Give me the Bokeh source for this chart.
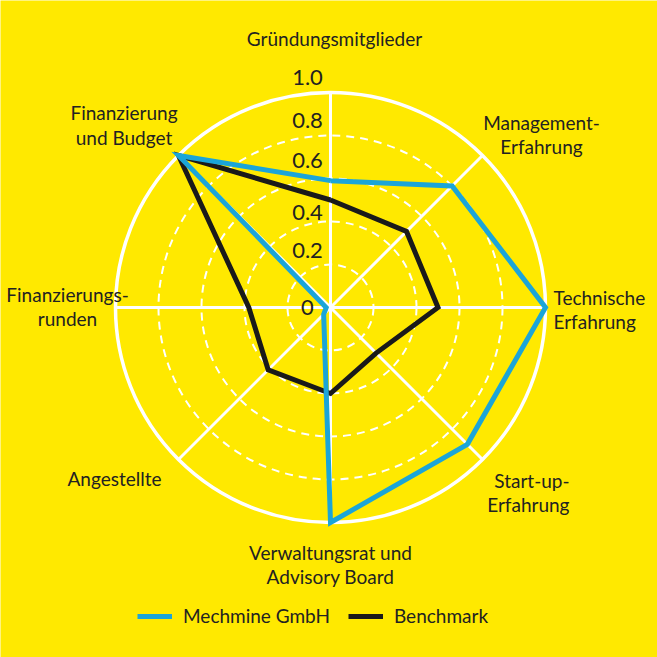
import numpy as np
from bokeh.plotting import figure
from bokeh.models import Legend, LegendItem
from bokeh.core.properties import value
from bokeh.embed import file_html
from bokeh.resources import INLINE

# ---------------- data ----------------
categories = [
    "Gründungsmitglieder",
    "Management-\nErfahrung",
    "Technische\nErfahrung",
    "Start-up-\nErfahrung",
    "Verwaltungsrat und\nAdvisory Board",
    "Angestellte",
    "Finanzierungs-\nrunden",
    "Finanzierung\nund Budget",
]
mechmine = [0.59, 0.80, 1.00, 0.90, 1.00, 0.045, 0.02, 1.00]
benchmark = [0.50, 0.50, 0.50, 0.30, 0.40, 0.41, 0.38, 1.00]
tick_values = [0, 0.2, 0.4, 0.6, 0.8, 1.0]
tick_labels = ["0", "0.2", "0.4", "0.6", "0.8", "1.0"]
series_names = ["Mechmine GmbH", "Benchmark"]

# ---------------- style / layout ----------------
BG = "#FFE900"
BLUE = "#1BA5D8"
BLACK = "#1A1A1A"
TXT = "#222222"
FONT = "Lato"
R = 215.0               # pixels per unit radius
CX, CY = 330.0, 307.0   # centre in page px
W = H = 657

x0 = -CX / R
x1 = (W - CX) / R
y1 = CY / R
y0 = (CY - H) / R

p = figure(width=W, height=H, x_range=(x0, x1), y_range=(y0, y1),
           output_backend="svg", toolbar_location=None,
           x_axis_type=None, y_axis_type=None, min_border=0)
p.background_fill_color = BG
p.border_fill_color = BG
p.outline_line_color = None
p.grid.visible = False

n = len(categories)
ang = np.arange(n) * 2 * np.pi / n

# dashed inner circles + solid outer
p.circle(x=[0] * 4, y=[0] * 4, radius=tick_values[1:5], fill_color=None,
         line_color="white", line_width=2, line_dash="8 6")
p.circle(x=[0], y=[0], radius=[tick_values[-1]], fill_color=None,
         line_color="white", line_width=3.5)
# spokes
p.segment(x0=[0] * n, y0=[0] * n, x1=list(np.sin(ang) * tick_values[-1]),
          y1=list(np.cos(ang) * tick_values[-1]), line_color="white", line_width=3)


def poly(vals):
    v = np.array(vals + vals[:1])
    a = np.append(ang, ang[0])
    return list(v * np.sin(a)), list(v * np.cos(a))

bx, by = poly(benchmark)
mx, my = poly(mechmine)
r_bench = p.line(bx, by, line_color=BLACK, line_width=5, line_join="miter")
r_mech = p.line(mx, my, line_color=BLUE, line_width=5, line_join="miter")

# tick labels (shifted slightly outward from their circle)
tick_shift = [0, 0.065, 0.04, 0.085, 0.07, 0.07]
ty = [v + s for v, s in zip(tick_values, tick_shift)]
p.text(x=[-23 / R] * len(tick_values), y=ty, text=tick_labels,
       text_font=value(FONT), text_font_size="22px", text_color=TXT,
       text_align="center", text_baseline="middle")

# category labels (layout offsets in px from centre)
lay = [(4, -269, "center"), (211, -173, "center"), (223, 2, "left"),
       (239, 185, "right"), (0, 257, "center"), (-216, 171, "center"),
       (-263, -1, "center"), (-206.5, -182.5, "center")]
for lab, (dx, dy, al) in zip(categories, lay):
    p.text(x=[dx / R], y=[-dy / R], text=[lab], text_font=value(FONT),
           text_font_size="19px", text_color=TXT, text_align=al,
           text_baseline="middle", text_line_height=1.05)

legend = Legend(items=[LegendItem(label=series_names[0], renderers=[r_mech]),
                       LegendItem(label=series_names[1], renderers=[r_bench])],
                orientation="horizontal", location=(137, 30),
                background_fill_alpha=0, border_line_alpha=0,
                padding=0, margin=0, spacing=18, label_standoff=11,
                glyph_width=35, glyph_height=20,
                label_text_font=FONT, label_text_font_size="19px",
                label_text_color=TXT)
p.add_layout(legend)

open("out.html", "w").write(file_html(p, INLINE))
